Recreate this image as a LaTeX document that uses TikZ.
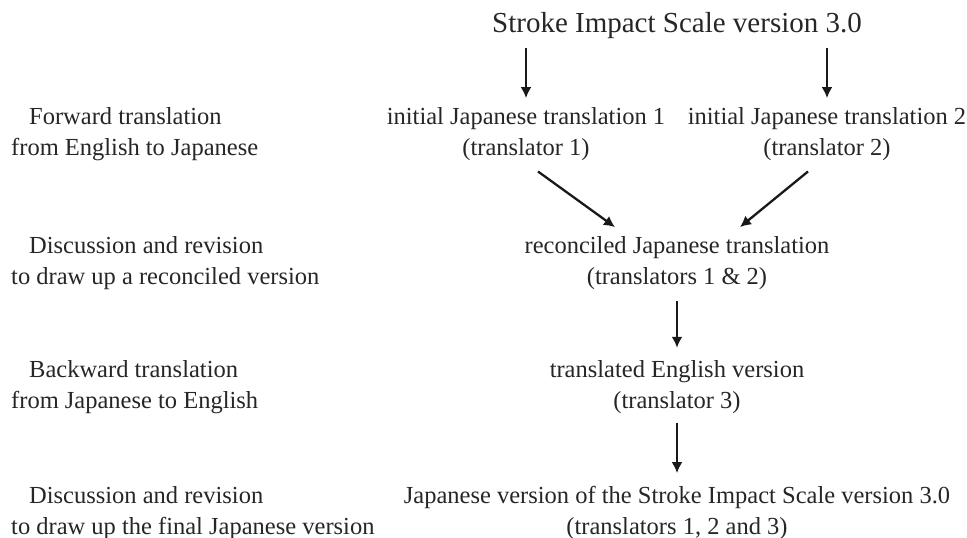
\documentclass[tikz,border=0pt]{standalone}
\usepackage{fontspec}
\setmainfont{Liberation Serif}
\usetikzlibrary{arrows.meta}
\begin{document}
\begin{tikzpicture}[x=1pt,y=-1pt,
  txt/.style={inner sep=0pt,align=center,font=\fontsize{24.5}{31}\selectfont,text=black!85},
  lbl/.style={inner sep=0pt,align=left,anchor=west,font=\fontsize{24.5}{31}\selectfont,text=black!85},
  ttl/.style={inner sep=0pt,anchor=base,font=\fontsize{29}{34}\selectfont,text=black!85},
  arr/.style={line width=2.3pt,draw=black!90,-{Latex[length=11pt,width=11pt]}}]
\useasboundingbox (0,0) rectangle (967,538);
\node[ttl] (title) at (677,32) {Stroke Impact Scale version 3.0};
\node[txt] (t1) at (526,133.3) {\strut initial Japanese translation 1\\\strut(translator 1)};
\node[txt] (t2) at (827,133.3) {\strut initial Japanese translation 2\\\strut(translator 2)};
\node[txt] (rec) at (677,262.3) {\strut reconciled Japanese translation\\\strut(translators 1 \& 2)};
\node[txt] (back) at (677,387) {\strut translated English version\\\strut(translator 3)};
\node[txt] (fin) at (677,512.3) {\strut Japanese version of the Stroke Impact Scale version 3.0\\\strut(translators 1, 2 and 3)};
\node[lbl] (l1) at (11,133.3) {\strut\hspace*{18pt}Forward translation\\\strut from English to Japanese};
\node[lbl] (l2) at (11,262.3) {\strut\hspace*{18pt}Discussion and revision\\\strut to draw up a reconciled version};
\node[lbl] (l3) at (11,387) {\strut\hspace*{18pt}Backward translation\\\strut from Japanese to English};
\node[lbl] (l4) at (11,512.3) {\strut\hspace*{18pt}Discussion and revision\\\strut to draw up the final Japanese version};
\draw[arr] ([yshift=-16pt]title.base -| t1.north) -- ([yshift=4pt]t1.north);
\draw[arr] ([yshift=-16pt]title.base -| t2.north) -- ([yshift=4pt]t2.north);
\draw[arr] ([xshift=12pt,yshift=-7pt]t1.south) -- ([xshift=-62pt,yshift=4pt]rec.north);
\draw[arr] ([xshift=-19pt,yshift=-7pt]t2.south) -- ([xshift=63pt,yshift=4pt]rec.north);
\draw[arr] ([yshift=-7pt]rec.south) -- ([yshift=8pt]back.north);
\draw[arr] ([yshift=-5pt]back.south) -- ([yshift=8pt]fin.north);
\end{tikzpicture}
\end{document}
